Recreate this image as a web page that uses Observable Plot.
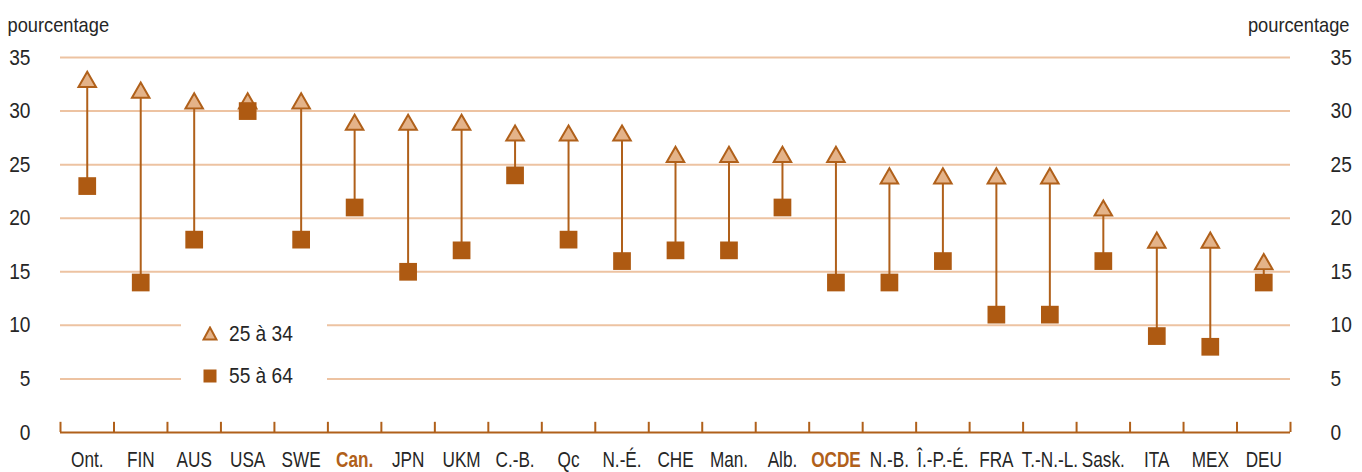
<!DOCTYPE html>
<html>
<head>
<meta charset="utf-8">
<script src="https://cdn.jsdelivr.net/npm/d3@7"></script>
<script src="https://cdn.jsdelivr.net/npm/@observablehq/plot@0.6"></script>
<style>
  html, body { margin: 0; padding: 0; background: #fff; }
  #wrap { position: relative; width: 1362px; height: 472px; font-family: "Liberation Sans", Arial, sans-serif; }
  #legend { position: absolute; left: 181px; top: 316px; width: 146px; height: 78px; background: #fff; font-size: 22px; color: #262626; }
  #legend .row { position: absolute; left: 0; height: 24px; display: flex; align-items: center; }
  #legend svg { margin-left: 21px; margin-right: 11px; }
  #legend span { display: inline-block; transform: scaleX(0.87); transform-origin: left center; }
</style>
</head>
<body>
<div id="wrap"></div>
<script>
const categories = ["Ont.", "FIN", "AUS", "USA", "SWE", "Can.", "JPN", "UKM", "C.-B.", "Qc", "N.-É.", "CHE", "Man.", "Alb.", "OCDE", "N.-B.", "Î.-P.-É.", "FRA", "T.-N.-L.", "Sask.", "ITA", "MEX", "DEU"];
const age25to34 = [33, 32, 31, 31, 31, 29, 29, 29, 28, 28, 28, 26, 26, 26, 26, 24, 24, 24, 24, 21, 18, 18, 16];
const age55to64 = [23, 14, 18, 30, 18, 21, 15, 17, 24, 18, 16, 17, 17, 21, 14, 14, 16, 11, 11, 16, 9, 8, 14];
const highlighted = ["Can.", "OCDE"];
const yTicks = [0, 5, 10, 15, 20, 25, 30, 35];
const seriesLabels = ["25 à 34", "55 à 64"];
const axisTitle = "pourcentage";

const brown = "#B0601A";
const squareFill = "#AE5A12";
const triFill = "#E4B389";
const gridColor = "#EDC3A2";
const textColor = "#262626";
const font = '"Liberation Sans", Arial, sans-serif';

const data = categories.map((c, i) => ({i, c, a: age25to34[i], b: age55to64[i], hl: highlighted.includes(c)}));
const boundaries = d3.range(-0.5, categories.length, 1);

const chart = Plot.plot({
  width: 1362,
  height: 472,
  marginLeft: 60,
  marginRight: 72,
  marginTop: 57,
  marginBottom: 40,
  x: {domain: [-0.5, categories.length - 0.5], axis: null},
  y: {domain: [0, 35], axis: null},
  style: {fontFamily: font, fontSize: "22px", color: textColor, background: "#fff"},
  marks: [
    Plot.ruleY(yTicks.filter(d => d > 0), {stroke: gridColor, strokeWidth: 2}),
    Plot.axisY({anchor: "left", ticks: yTicks, tickSize: 0, tickPadding: 30, label: null, fontSize: 22, className: "num"}),
    Plot.axisY({anchor: "right", ticks: yTicks, tickSize: 0, tickPadding: 40, label: null, fontSize: 22, className: "num"}),
    Plot.ruleY([0], {stroke: brown, strokeWidth: 2}),
    Plot.ruleX(boundaries, {x: d => d, y1: 0, y2: 0.95, stroke: brown, strokeWidth: 2}),
    Plot.ruleX(data, {x: "i", y1: "b", y2: "a", stroke: brown, strokeWidth: 2}),
    Plot.dot(data, {x: "i", y: "a", symbol: "triangle", r: 6.5, dy: 3, fill: triFill, stroke: brown, strokeWidth: 2}),
    Plot.dot(data, {x: "i", y: "b", symbol: "square", r: 10, fill: squareFill, stroke: "none"}),
    Plot.text(data.filter(d => !d.hl), {x: "i", y: 0, dy: 27, text: "c", fill: textColor, fontSize: 22, className: "cat"}),
    Plot.text(data.filter(d => d.hl), {x: "i", y: 0, dy: 27, text: "c", fill: brown, fontSize: 22, fontWeight: "bold", className: "cat"}),
    Plot.text([axisTitle], {frameAnchor: "top-left", text: d => d, dx: -53, dy: -40, textAnchor: "start", fill: textColor, fontSize: 21, className: "num"}),
    Plot.text([axisTitle], {frameAnchor: "top-right", text: d => d, dx: 59, dy: -40, textAnchor: "end", fill: textColor, fontSize: 21, className: "num"})
  ]
});

const wrap = document.getElementById("wrap");
wrap.appendChild(chart);

// condense text horizontally to mimic a condensed typeface (positions untouched)
function condense(t, s) {
  const L = t.getComputedTextLength();
  if (L > 0) {
    t.setAttribute("textLength", (L * s).toFixed(2));
    t.setAttribute("lengthAdjust", "spacingAndGlyphs");
  }
}
chart.querySelectorAll(".cat text").forEach(t => condense(t, 0.78));
chart.querySelectorAll(".num text").forEach(t => condense(t, 0.87));

const legend = document.createElement("div");
legend.id = "legend";
legend.innerHTML = `
  <div class="row" style="top:6px">
    <svg width="16" height="16" viewBox="-8 -8 16 16"><path d="M0,-6.5L6.5,5.5L-6.5,5.5Z" fill="${triFill}" stroke="${brown}" stroke-width="2"/></svg>
    <span>${seriesLabels[0]}</span>
  </div>
  <div class="row" style="top:48px">
    <svg width="16" height="16" viewBox="-8 -8 16 16"><rect x="-6.5" y="-6.5" width="13" height="13" fill="${squareFill}"/></svg>
    <span>${seriesLabels[1]}</span>
  </div>`;
wrap.appendChild(legend);
</script>
</body>
</html>
